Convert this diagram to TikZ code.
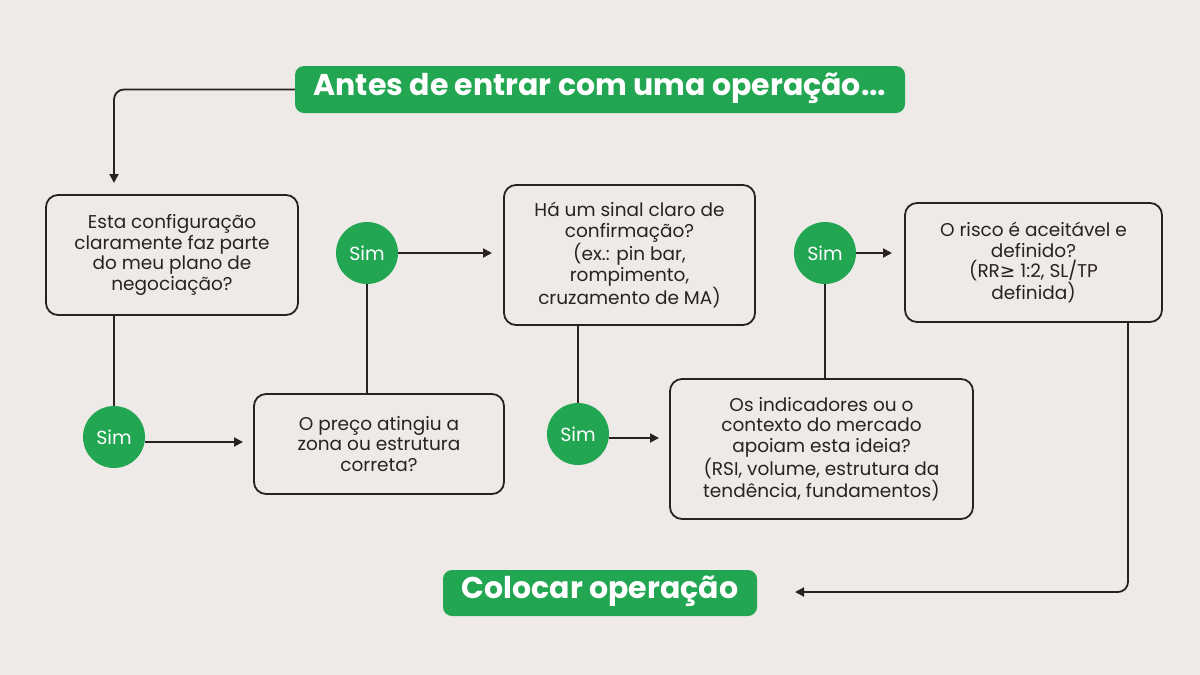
\documentclass[tikz,border=0pt]{standalone}
\usepackage{fontspec}
\setmainfont{Poppins}
\newfontfamily\djv{DejaVu Sans}
\usetikzlibrary{arrows.meta}
\definecolor{bg}{HTML}{EEEAE7}
\definecolor{gr}{HTML}{22A652}
\definecolor{ink}{HTML}{2A2222}
\begin{document}
\begin{tikzpicture}[x=1pt,y=-1pt,
  qbox/.style={draw=ink,line width=1.8pt,rounded corners=12pt,align=center,font=\fontsize{18.5}{20.5}\selectfont,text=ink,inner sep=0pt},
  sim/.style={circle,fill=gr,minimum size=62pt,inner sep=0pt,text=white,font=\fontsize{19}{22}\selectfont},
  banner/.style={fill=gr,rounded corners=9pt,text=white,font=\fontsize{30}{34}\selectfont\bfseries,inner sep=0pt},
  conn/.style={draw=ink,line width=1.8pt},
  arr/.style={conn,-{Triangle[length=9pt,width=9pt]}}]
\fill[bg] (0,0) rectangle (1200,675);
\useasboundingbox (0,0) rectangle (1200,675);
\node[banner,minimum width=610pt,minimum height=47pt] (title) at (600,89.5) {\raisebox{-6pt}[0pt][0pt]{Antes de entrar com uma operação...}};
\node[qbox,minimum width=252pt,minimum height=120pt] (b1) at (172,255) {Esta configuração\\claramente faz parte\\do meu plano de\\negociação?};
\node[sim] (s1) at (114,437) {Sim};
\node[qbox,minimum width=250pt,minimum height=100pt] (b2) at (379,444) {O preço atingiu a\\zona ou estrutura\\correta?};
\node[sim] (s2) at (367,253) {Sim};
\node[qbox,minimum width=251pt,minimum height=140pt] (b3) at (629.5,255) {Há um sinal claro de\\confirmação?\\(ex.: pin bar,\\rompimento,\\cruzamento de MA)};
\node[sim] (s3) at (578,434) {Sim};
\node[qbox,minimum width=303pt,minimum height=140pt] (b4) at (821.5,449) {Os indicadores ou o\\contexto do mercado\\apoiam esta ideia?\\(RSI, volume, estrutura da\\tendência, fundamentos)};
\node[sim] (s4) at (825,253) {Sim};
\node[qbox,minimum width=257pt,minimum height=119pt] (b5) at (1033.5,262.5) {O risco é aceitável e\\definido?\\(RR{\djv≥} 1:2, SL/TP\\definida)};
\node[banner,minimum width=314pt,minimum height=46pt] (fin) at (600,593) {\raisebox{-5pt}[0pt][0pt]{Colocar operação}};
\coordinate (a1) at (114,183);
\draw[arr,rounded corners=10pt] (title.west) -- (114,89.5) -- (a1);
\draw[conn] (b1.south -| s1) -- (s1.north);
\draw[arr] (s1.east |- 0,442) -- (243,442);
\draw[conn] (b2.north -| s2) -- (s2.south);
\draw[arr] (s2.east) -- (492,253);
\draw[conn] (b3.south -| s3) -- (s3.north);
\draw[arr] (s3.east |- 0,438) -- (659,438);
\draw[conn] (b4.north -| s4) -- (s4.south);
\draw[arr] (s4.east) -- (892,253);
\coordinate (a2) at (795,592);
\draw[arr,rounded corners=10pt] (1128,322) -- (1128,592) -- (a2);
\end{tikzpicture}
\end{document}
